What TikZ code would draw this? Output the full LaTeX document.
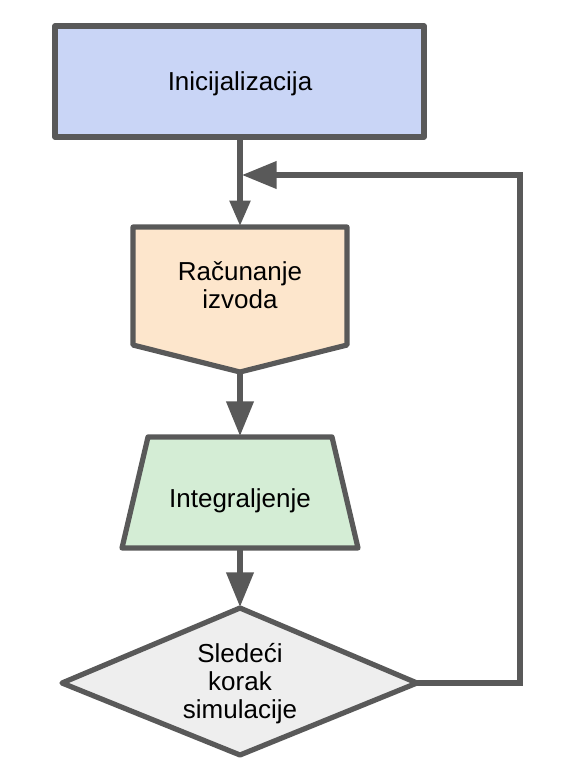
\documentclass[tikz,border=0pt]{standalone}
\usepackage{fontspec}
\setmainfont{Liberation Sans}
\usetikzlibrary{arrows.meta}
\definecolor{bord}{HTML}{595959}
\definecolor{cblue}{HTML}{C9D5F6}
\definecolor{corange}{HTML}{FDE6CC}
\definecolor{cgreen}{HTML}{D4EDD5}
\definecolor{cgray}{HTML}{EEEEEE}
\tikzset{
  shapeline/.style={draw=bord, line width=3.9pt, line join=round},
  conn/.style={draw=bord, line width=3.9pt},
  bigtip/.style={-{Triangle[width=20pt,length=26pt]}},
  smalltip/.style={-{Triangle[width=15pt,length=19pt]}},
  lbl/.style={font=\fontsize{19.5}{21}\selectfont, align=center, text=black, inner sep=0pt},
}
\begin{document}
\begin{tikzpicture}[x=0.75pt,y=-0.75pt]
\useasboundingbox (0,0) rectangle (566,768);
% shapes
\path[shapeline, fill=cblue] (55,26) rectangle (424,137);
\path[shapeline, fill=corange] (133,227) -- (347,227) -- (347,345) -- (240,372) -- (133,345) -- cycle;
\path[shapeline, fill=cgreen] (148,437) -- (332,437) -- (358,548) -- (122,548) -- cycle;
\path[shapeline, fill=cgray] (240,608) -- (417,683) -- (240,755) -- (62,683) -- cycle;
% connector points
\coordinate (initB) at (240,137);
\coordinate (racT) at (240,226);
\coordinate (racB) at (240,372);
\coordinate (intT) at (240,436);
\coordinate (intB) at (240,548);
\coordinate (sledT) at (240,607);
\coordinate (sledR) at (417,683);
\coordinate (loopA) at (520,683);
\coordinate (loopB) at (520,175);
\coordinate (loopEnd) at (242,175);
% connectors
\draw[conn, smalltip] (initB) -- (racT);
\draw[conn, bigtip] (racB) -- (intT);
\draw[conn, bigtip] (intB) -- (sledT);
\draw[conn, bigtip, line join=miter] (sledR) -- (loopA) -- (loopB) -- (loopEnd);
% labels
\node[lbl, anchor=base] (init) at (240,90) {Inicijalizacija};
\node[lbl, anchor=base] (racun) at (240,308) {Računanje\\izvoda};
\node[lbl, anchor=base] (integ) at (240,507) {Integraljenje};
\node[lbl, anchor=base] (sled) at (240,718) {Sledeći\\korak\\simulacije};
\end{tikzpicture}
\end{document}
